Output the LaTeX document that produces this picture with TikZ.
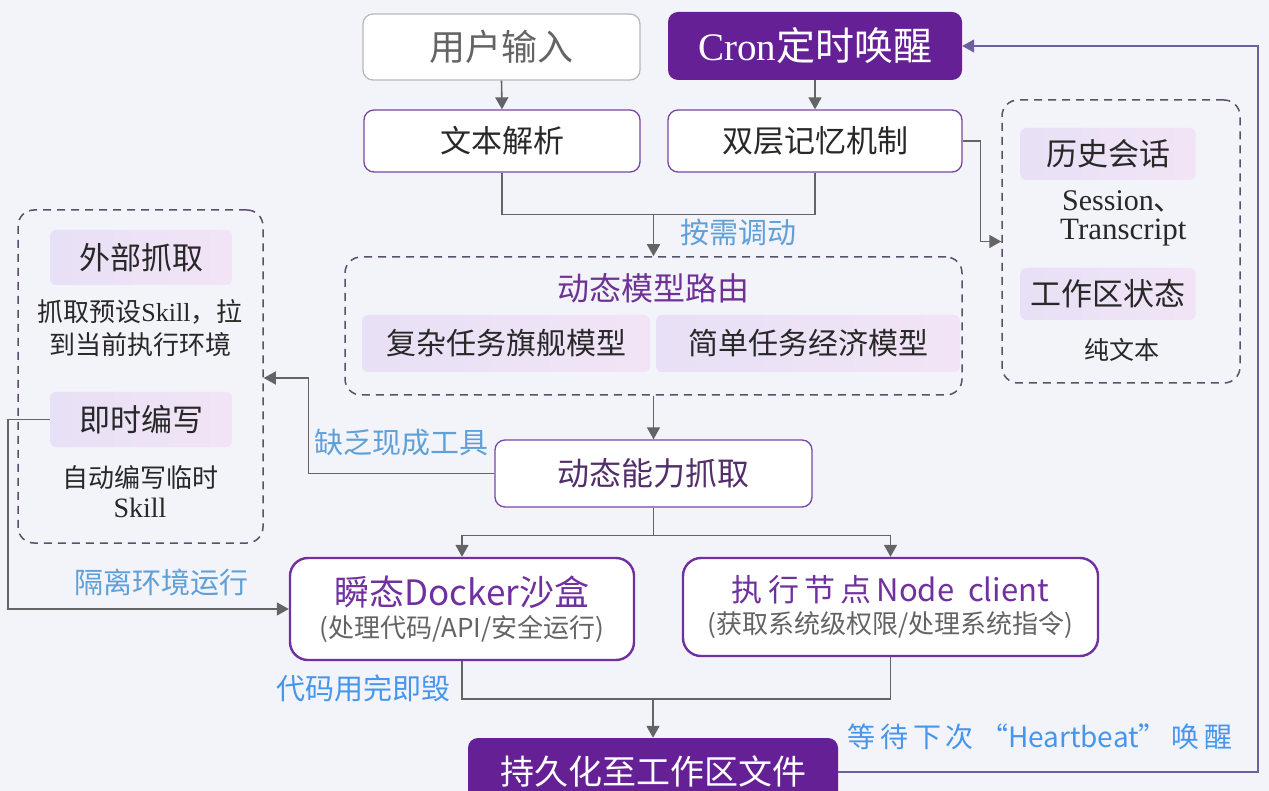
\documentclass[tikz,border=0pt]{standalone}
\usepackage{fontspec}
\setmainfont{Liberation Serif}
\newfontfamily\cjk{Noto Sans CJK SC}
\usetikzlibrary{arrows.meta}
\definecolor{bgc}{RGB}{243,243,250}
\definecolor{dpurple}{RGB}{102,32,150}
\definecolor{bpurple}{RGB}{120,70,160}
\definecolor{spurple}{RGB}{112,48,160}
\definecolor{bandA}{RGB}{232,224,246}
\definecolor{bandB}{RGB}{242,228,246}
\definecolor{lblue}{RGB}{95,160,215}
\definecolor{sblue}{RGB}{70,150,235}
\definecolor{connc}{RGB}{100,100,100}
\definecolor{dashc}{RGB}{90,80,110}
\definecolor{txt}{RGB}{40,40,40}
\definecolor{loopc}{RGB}{110,95,160}
\definecolor{titlec}{RGB}{110,50,150}
\newcommand{\fsz}[1]{\fontsize{#1}{#1}\selectfont}
\begin{document}
\begin{tikzpicture}[x=1pt,y=-1pt,
  box/.style={draw=bpurple,line width=1.3pt,fill=white,rounded corners=10pt,inner sep=0pt,text=txt},
  darkbox/.style={fill=dpurple,rounded corners=10pt,inner sep=0pt,text=white},
  sbox/.style={draw=spurple,line width=2.4pt,fill=white,rounded corners=18pt,inner sep=0pt,align=center},
  dbox/.style={draw=dashc,line width=1.5pt,dash pattern=on 8pt off 6pt,rounded corners=16pt,inner sep=0pt},
  bandbox/.style={left color=bandA,right color=bandB,rounded corners=6pt,inner sep=0pt,text=txt},
  conn/.style={draw=connc,line width=1.6pt},
  arr/.style={conn,-{Triangle[width=13pt,length=12pt]}},
  lbl/.style={text=lblue,font=\cjk\fsz{29},inner sep=0pt},
  plain/.style={text=txt,inner sep=0pt},
]
\path[use as bounding box,fill=bgc] (0,0) rectangle (1269,791);

% top row
\node[box,draw={rgb,255:red,185;green,185;blue,185},text={rgb,255:red,100;green,100;blue,100},minimum width=277pt,minimum height=66pt,font=\cjk\fsz{36}] (user) at (501.5,47) {用户输入};
\node[darkbox,minimum width=294pt,minimum height=68pt,font=\fsz{39}] (cron) at (815,46) {Cron{\cjk 定时唤醒}};

\node[box,minimum width=276pt,minimum height=62pt,font=\cjk\fsz{31}] (parse) at (502,141) {文本解析};
\node[box,minimum width=294pt,minimum height=62pt,font=\cjk\fsz{31}] (mem) at (815,141) {双层记忆机制};

% routing box
\node[dbox,minimum width=617pt,minimum height=138pt] (route) at (653.5,326) {};
\node[plain,text=titlec,font=\cjk\fsz{32}] (rtitle) at (653.5,288) {动态模型路由};
\node[bandbox,minimum width=288pt,minimum height=57pt,font=\cjk\fsz{30}] (complex) at (506,343.5) {复杂任务旗舰模型};
\node[bandbox,minimum width=304pt,minimum height=57pt,font=\cjk\fsz{30}] (simple) at (808,343.5) {简单任务经济模型};

% right memory box
\node[dbox,minimum width=238pt,minimum height=283pt] (rbox) at (1121,241.5) {};
\node[bandbox,minimum width=175pt,minimum height=52pt,font=\cjk\fsz{31}] (hist) at (1108,154) {历史会话};
\node[plain,anchor=west,font=\fsz{30}] (sess) at (1062,201) {Session{\cjk 、}};
\node[plain,anchor=west,font=\fsz{31}] (trans) at (1060,233) {Transcript};
\node[bandbox,minimum width=175pt,minimum height=52pt,font=\cjk\fsz{31}] (ws) at (1108,294) {工作区状态};
\node[plain,font=\cjk\fsz{25}] (pure) at (1122,350) {纯文本};

% capability
\node[box,minimum width=317pt,minimum height=67pt,font=\cjk\fsz{32},text=titlec!60!txt] (cap) at (653.5,473.5) {动态能力抓取};

% left box
\node[dbox,minimum width=245pt,minimum height=333pt] (leftbox) at (140.5,376.5) {};
\node[bandbox,minimum width=182pt,minimum height=55pt,font=\cjk\fsz{31}] (ext) at (141,257.5) {外部抓取};
\node[plain,font=\fsz{26}] (ext1) at (140,312) {{\cjk 抓取预设}Skill{\cjk ，拉}};
\node[plain,font=\cjk\fsz{26}] (ext2) at (140,345) {到当前执行环境};
\node[bandbox,minimum width=182pt,minimum height=55pt,font=\cjk\fsz{31}] (jishi) at (141,419.5) {即时编写};
\node[plain,font=\cjk\fsz{26}] (js1) at (140,478) {自动编写临时};
\node[plain,font=\fsz{28}] (js2) at (140,508) {Skill};

% execution boxes
\node[sbox,minimum width=344pt,minimum height=102pt] (docker) at (462,609) {%
  {\cjk\fsz{35}\color{spurple}瞬态Docker沙盒}\\[6pt]
  {\cjk\fsz{26}\color{connc}(处理代码/API/安全运行)}};
\node[sbox,minimum width=415pt,minimum height=98pt] (exec) at (890.5,607) {%
  {\cjk\fsz{31}\color{spurple}执\,行\,节\,点\,Node\ \ client}\\[6pt]
  {\cjk\fsz{26}\color{connc}(获取系统级权限/处理系统指令)}};

% bottom
\node[darkbox,minimum width=370pt,minimum height=68pt,font=\cjk\fsz{34}] (persist) at (653,772) {持久化至工作区文件};

% connectors
\draw[arr] (user.south) -- (parse.north);
\draw[arr] (cron.south) -- (mem.north);
\draw[conn] (parse.south) -- ++(0,42) -| (mem.south);
\coordinate (j1) at (653.5,214);
\draw[arr] (j1) -- (route.north);
\node[lbl] (l1) at (738,232) {按需调动};

\draw[arr] (mem.east) -- ++(18,0) |- (rbox.west);

\draw[arr] (route.south) -- (cap.north);

\draw[arr] (cap.west) -- ++(-186,0) |- (leftbox.east |- 0,378);
\node[lbl] (l2) at (401,443) {缺乏现成工具};

\draw[arr] (jishi.west) -- ++(-42,0) |- (docker.west);
\node[lbl] (l3) at (161,582) {隔离环境运行};

\draw[conn] (cap.south) -- ++(0,28) coordinate (j2);
\draw[arr] (j2) -| (docker.north);
\draw[arr] (j2) -| (exec.north);

\draw[conn] (docker.south) -- ++(0,38) coordinate (j3) -| (exec.south);
\coordinate (j4) at (653,698);
\draw[arr] (j4) -- (persist.north);
\node[lbl,text=sblue] (l4) at (363,688) {代码用完即毁};

\draw[draw=loopc,line width=1.6pt,-{Triangle[width=13pt,length=12pt]}] (persist.east) -- ++(420,0) |- (cron.east);
\node[lbl,text=sblue,font=\cjk\fsz{28}] (l5) at (1040,737) {等\,待\,下\,次\ “Heartbeat”\,唤\,醒};
\end{tikzpicture}
\end{document}
